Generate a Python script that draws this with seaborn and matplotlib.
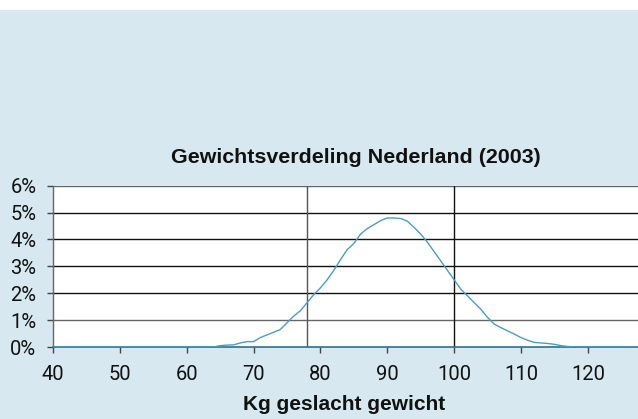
import numpy as np
import pandas as pd
import matplotlib
matplotlib.use("Agg")
import matplotlib.pyplot as plt
import seaborn as sns
from matplotlib.ticker import FuncFormatter
import matplotlib.patches as mpatches

kg = list(range(40, 128))
pct_core = {
    64: 0.0, 65: 0.05, 66: 0.07, 67: 0.08, 68: 0.15, 69: 0.2, 70: 0.2, 71: 0.35,
    72: 0.45, 73: 0.55, 74: 0.65, 75: 0.9, 76: 1.15, 77: 1.35, 78: 1.65, 79: 1.95,
    80: 2.2, 81: 2.5, 82: 2.85, 83: 3.25, 84: 3.62, 85: 3.85, 86: 4.2, 87: 4.4,
    88: 4.55, 89: 4.7, 90: 4.8, 91: 4.8, 92: 4.78, 93: 4.68, 94: 4.45, 95: 4.2,
    96: 3.9, 97: 3.55, 98: 3.2, 99: 2.85, 100: 2.5, 101: 2.15, 102: 1.9, 103: 1.65,
    104: 1.4, 105: 1.1, 106: 0.85, 107: 0.72, 108: 0.6, 109: 0.48, 110: 0.35,
    111: 0.25, 112: 0.17, 113: 0.15, 114: 0.13, 115: 0.1, 116: 0.05, 117: 0.02,
}
pct = [pct_core.get(k, 0.0) for k in kg]
x_ticks = [40, 50, 60, 70, 80, 90, 100, 110, 120]
y_ticks = [0, 1, 2, 3, 4, 5, 6]
marker_lines = [78, 100]
title = "Gewichtsverdeling Nederland (2003)"
xlabel = "Kg geslacht gewicht"

sns.set_theme(style="white")
plt.rcParams["font.family"] = ["Liberation Sans", "DejaVu Sans"]

bg = "#d7e8f1"
fig = plt.figure(figsize=(6.38, 4.19), dpi=100, facecolor="white")
fig.patches.append(mpatches.Rectangle((0, 0), 1, 1 - 10 / 419, transform=fig.transFigure,
                                      facecolor=bg, edgecolor="none", zorder=-10))
ax = fig.add_axes([53 / 638, 1 - 347 / 419, 1 - 53 / 638, (347 - 185.7) / 419])
ax.set_facecolor("white")

df = pd.DataFrame({"kg": kg, "pct": pct})
sns.lineplot(data=df, x="kg", y="pct", ax=ax, color="#4a9dc2", linewidth=1.0, zorder=5)

ax.set_xlim(40, 127.5)
ax.set_ylim(0, 6)
ax.set_xticks(x_ticks)
ax.set_yticks(y_ticks)
ax.yaxis.set_major_formatter(FuncFormatter(lambda v, p: f"{int(v)}%"))
for v in y_ticks[1:]:
    ax.axhline(v, color="#111111" if v not in (1, 6) else "#666666", linewidth=1.0, zorder=2)
for i, v in enumerate(marker_lines):
    ax.axvline(v, color="#555555" if i == 0 else "#111111", linewidth=1.0, zorder=2)

for s in ["top", "right"]:
    ax.spines[s].set_visible(False)
ax.spines["left"].set_color("#666666")
ax.spines["bottom"].set_color("#2f6f8a")
ax.spines["left"].set_linewidth(1.0)
ax.spines["bottom"].set_linewidth(1.2)
ax.tick_params(axis="both", which="major", direction="out", length=4, width=1,
               color="#444444", labelsize=14.5, labelcolor="#111111", bottom=True, left=True)
ax.tick_params(axis="x", pad=9)
ax.tick_params(axis="y", pad=8)
for lab in ax.get_xticklabels() + ax.get_yticklabels():
    lab.set_family(["Roboto", "Liberation Sans", "DejaVu Sans"])
    lab.set_fontweight("normal")

ax.set_xlabel("")
ax.set_ylabel("")
fig.text(344 / 638, 1 - 410 / 419, xlabel, ha="center", va="baseline",
         fontsize=15, fontweight="bold", color="#111111")
fig.text(356 / 638, 1 - 163 / 419, title, ha="center", va="baseline",
         fontsize=15.4, fontweight="bold", color="#111111")

fig.savefig("out.png", dpi=100, facecolor=fig.get_facecolor())
